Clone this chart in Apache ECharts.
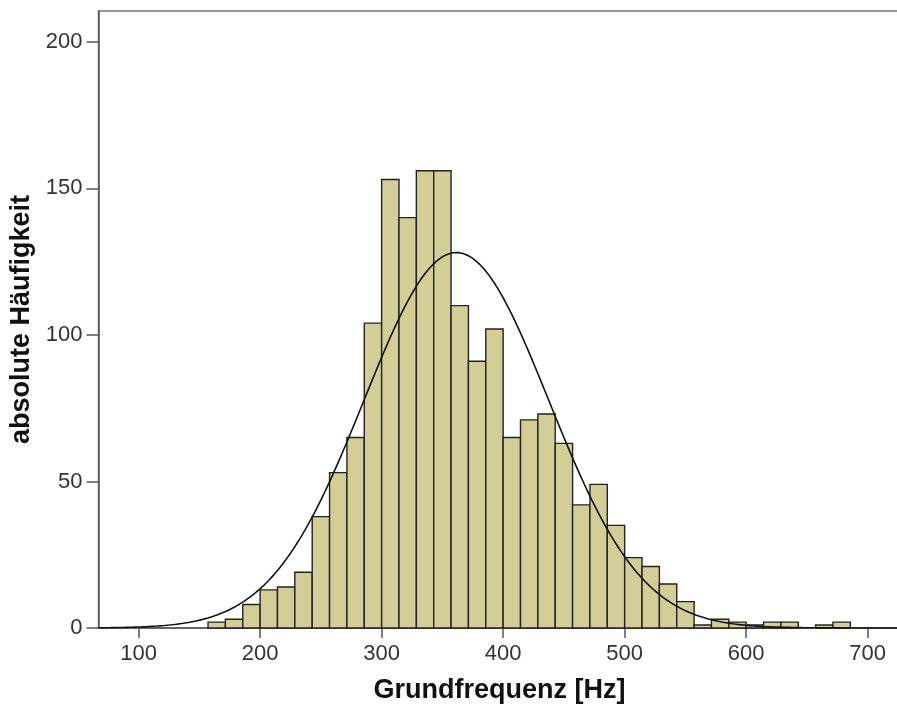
<!DOCTYPE html>
<html>
<head>
<meta charset="utf-8">
<script src="https://cdn.jsdelivr.net/npm/echarts@6/dist/echarts.min.js"></script>
<style>
  html, body { margin: 0; padding: 0; background: #fff; }
  #chart { width: 897px; height: 706px; }
</style>
</head>
<body>
<div id="chart"></div>
<script>
// Histogram bins: 7 bins per 100 Hz, first bin starting at 157.14 Hz
const binStart = 1100 / 7;
const binWidth = 100 / 7;
const counts = [
  2, 3, 8, 13, 14, 19, 38, 53, 65, 104,
  153, 140, 156, 156, 110, 91, 102, 65, 71, 73,
  63, 42, 49, 35, 24, 21, 15, 9, 1, 3,
  2, 1, 2, 2, 0, 1, 2
];

// Fitted normal distribution parameters
const fitMean = 361.5;
const fitSd = 76;

// Axis ticks
const xTicks = [100, 200, 300, 400, 500, 600, 700];
const yTicks = [0, 50, 100, 150, 200];

const total = counts.reduce((a, b) => a + b, 0);

const barData = [];
counts.forEach((c, i) => {
  if (c > 0) {
    const x0 = binStart + i * binWidth;
    barData.push([x0, x0 + binWidth, c]);
  }
});

const xMin = 67, xMax = 727;
const curveData = [];
for (let x = xMin; x <= xMax; x += 2) {
  const z = (x - fitMean) / fitSd;
  const y = total * binWidth * Math.exp(-0.5 * z * z) / (fitSd * Math.sqrt(2 * Math.PI));
  curveData.push([x, y]);
}

const font = '"Liberation Sans", Arial, sans-serif';
const chart = echarts.init(document.getElementById('chart'), null, { renderer: 'canvas' });

chart.setOption({
  animation: false,
  backgroundColor: '#ffffff',
  grid: {
    left: 98.5, top: 11, width: 802, height: 617,
    outerBoundsMode: 'none',
    containLabel: false,
    show: true, borderColor: '#777', borderWidth: 1.5, backgroundColor: 'transparent'
  },
  xAxis: {
    type: 'value',
    min: xMin, max: xMax,
    name: 'Grundfrequenz [Hz]',
    nameLocation: 'middle',
    nameGap: 49,
    nameTextStyle: { fontFamily: font, fontSize: 27, fontWeight: 'bold', color: '#111' },
    axisLine: { show: true, onZero: false, lineStyle: { color: '#555', width: 1.5 } },
    axisTick: { show: true, length: 10, customValues: xTicks, lineStyle: { color: '#555', width: 1.5 } },
    axisLabel: { customValues: xTicks, margin: 15, fontFamily: font, fontSize: 22, color: '#333' },
    splitLine: { show: false }
  },
  yAxis: {
    type: 'value',
    min: 0, max: 210.5,
    name: 'absolute Häufigkeit',
    nameLocation: 'middle',
    nameGap: 62,
    nameRotate: 90,
    nameTextStyle: { fontFamily: font, fontSize: 27, fontWeight: 'bold', color: '#111' },
    axisLine: { show: true, lineStyle: { color: '#555', width: 1.5 } },
    axisTick: { show: true, length: 12, customValues: yTicks, lineStyle: { color: '#555', width: 1.5 } },
    axisLabel: { customValues: yTicks, margin: 16, fontFamily: font, fontSize: 22, color: '#333' },
    splitLine: { show: false }
  },
  series: [
    {
      type: 'custom',
      data: barData,
      encode: { x: [0, 1], y: 2 },
      renderItem: function (params, api) {
        const p0 = api.coord([api.value(0), api.value(2)]);
        const p1 = api.coord([api.value(1), 0]);
        return {
          type: 'rect',
          shape: { x: p0[0], y: p0[1], width: p1[0] - p0[0], height: p1[1] - p0[1] },
          style: { fill: '#d3ce97', stroke: '#222', lineWidth: 1.4 }
        };
      },
      z: 2
    },
    {
      type: 'line',
      data: curveData,
      showSymbol: false,
      smooth: false,
      lineStyle: { color: '#111', width: 1.6 },
      z: 3
    }
  ]
});
</script>
</body>
</html>
